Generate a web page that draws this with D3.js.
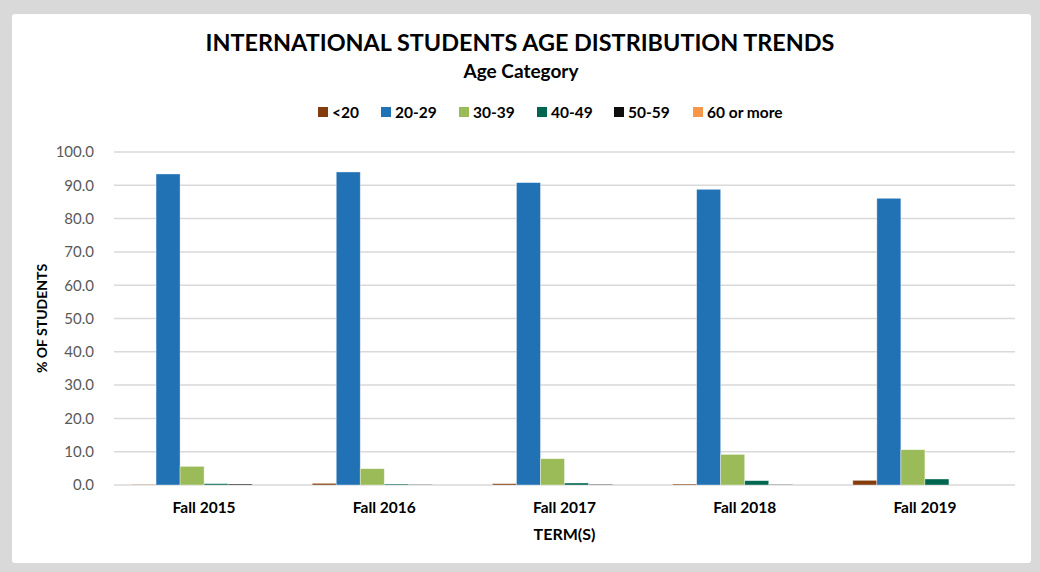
<!DOCTYPE html>
<html>
<head>
<meta charset="utf-8">
<script src="https://cdn.jsdelivr.net/npm/d3@7"></script>
<style>
  body { margin: 0; background: #d9d9d9; }
  svg { display: block; font-family: Lato, "Open Sans", sans-serif; }
</style>
</head>
<body>
<div id="viz"></div>
<script>
// Daten
const terms = ["Fall 2015", "Fall 2016", "Fall 2017", "Fall 2018", "Fall 2019"];
const ageGroups = ["<20", "20-29", "30-39", "40-49", "50-59", "60 or more"];
const under20 = [0.1, 0.5, 0.4, 0.3, 1.4];
const age20to29 = [93.4, 94.0, 90.8, 88.8, 86.1];
const age30to39 = [5.6, 4.9, 7.9, 9.2, 10.6];
const age40to49 = [0.4, 0.3, 0.6, 1.3, 1.8];
const age50to59 = [0.3, 0.1, 0.2, 0.1, 0.0];
const age60plus = [0.0, 0.0, 0.0, 0.0, 0.0];
const yTicks = [0, 10, 20, 30, 40, 50, 60, 70, 80, 90, 100];

const seriesValues = [under20, age20to29, age30to39, age40to49, age50to59, age60plus];
const colors = ["#843c0c", "#2171b5", "#9bbb59", "#00664f", "#0d0d0d", "#f79646"];

const width = 1040;
const height = 572;
const margin = { top: 152, right: 25, bottom: 87, left: 114 };

const svg = d3.select("#viz")
    .append("svg")
    .attr("width", width)
    .attr("height", height);

// Rahmen
svg.append("rect")
    .attr("width", width)
    .attr("height", height)
    .attr("fill", "#d9d9d9");

svg.append("rect")
    .attr("x", 12)
    .attr("y", 14)
    .attr("width", 1019)
    .attr("height", 549)
    .attr("rx", 3)
    .attr("fill", "#ffffff");

const x0 = d3.scaleBand()
    .domain(terms)
    .range([margin.left, width - margin.right])
    .paddingInner(0.2)
    .paddingOuter(0.1);

const x1 = d3.scaleBand()
    .domain(ageGroups)
    .range([0, x0.bandwidth()]);

const y = d3.scaleLinear()
    .domain([0, 100])
    .range([height - margin.bottom, margin.top]);

// Gitterlinien
svg.append("g")
    .selectAll("line")
    .data(yTicks)
    .enter()
    .append("line")
    .attr("x1", margin.left)
    .attr("x2", width - margin.right)
    .attr("y1", d => y(d))
    .attr("y2", d => y(d))
    .attr("stroke", "#d9d9d9")
    .attr("stroke-width", 1.5);

// y-Achse
svg.append("g")
    .attr("transform", `translate(${margin.left - 17},0)`)
    .call(d3.axisLeft(y).tickValues(yTicks).tickFormat(d3.format(".1f")).tickSize(0))
    .call(g => g.select(".domain").remove())
    .call(g => g.selectAll("text")
        .attr("fill", "#595959")
        .attr("font-size", 15)
        .attr("font-family", "Lato, sans-serif"));

// Balken
const groups = svg.append("g")
    .selectAll("g")
    .data(terms)
    .enter()
    .append("g")
    .attr("transform", d => `translate(${x0(d)},0)`);

groups.selectAll("rect")
    .data((t, i) => ageGroups.map((a, k) => ({ key: a, k: k, value: seriesValues[k][i] })))
    .enter()
    .append("rect")
    .attr("x", d => x1(d.key))
    .attr("width", x1.bandwidth())
    .attr("y", d => y(d.value))
    .attr("height", d => y(0) - y(d.value))
    .attr("fill", d => colors[d.k])
    .attr("stroke", "#ffffff")
    .attr("stroke-opacity", 0.5)
    .attr("stroke-width", 0.75);

// x-Achse
svg.append("g")
    .attr("transform", `translate(0,${height - margin.bottom + 14})`)
    .call(d3.axisBottom(x0).tickSize(0))
    .call(g => g.select(".domain").remove())
    .call(g => g.selectAll("text")
        .attr("fill", "#000")
        .attr("font-size", 15.5)
        .attr("font-weight", "bold")
        .attr("font-family", "Lato, sans-serif"));

// Titel
svg.append("text")
    .attr("x", 520)
    .attr("y", 51)
    .attr("text-anchor", "middle")
    .attr("font-size", 23.4)
    .attr("font-weight", "bold")
    .text("INTERNATIONAL STUDENTS AGE DISTRIBUTION TRENDS");

svg.append("text")
    .attr("x", 521)
    .attr("y", 78)
    .attr("text-anchor", "middle")
    .attr("font-size", 19)
    .attr("font-weight", "bold")
    .text("Age Category");

// Achsentitel
svg.append("text")
    .attr("x", (margin.left + width - margin.right) / 2)
    .attr("y", 540)
    .attr("text-anchor", "middle")
    .attr("font-size", 16)
    .attr("font-weight", "bold")
    .text("TERM(S)");

svg.append("text")
    .attr("transform", `translate(47,${(margin.top + height - margin.bottom) / 2}) rotate(-90)`)
    .attr("text-anchor", "middle")
    .attr("font-size", 14)
    .attr("font-weight", "bold")
    .text("% OF STUDENTS");

// Legende
const legendX = [318, 381, 459, 537, 614, 693];
const legend = svg.append("g")
    .selectAll("g")
    .data(ageGroups)
    .enter()
    .append("g")
    .attr("transform", (d, i) => `translate(${legendX[i]},107)`);

legend.append("rect")
    .attr("width", 10)
    .attr("height", 10)
    .attr("fill", (d, i) => colors[i]);

legend.append("text")
    .attr("x", 14)
    .attr("y", 10.5)
    .attr("font-size", 15.5)
    .attr("font-weight", "bold")
    .text(d => d);
</script>
</body>
</html>
